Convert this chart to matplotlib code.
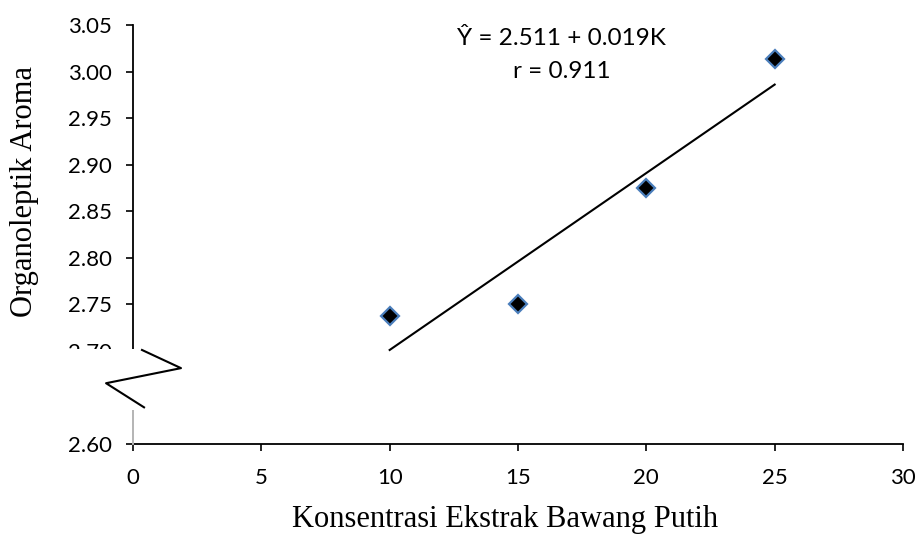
import matplotlib
matplotlib.use("Agg")
import matplotlib.pyplot as plt
from matplotlib.patches import Rectangle

# data
konsentrasi = [10, 15, 20, 25]
aroma = [2.737, 2.750, 2.875, 3.013]
intercept = 2.511
slope = 0.019
r_value = 0.911

y_ticks = [2.60, 2.65, 2.70, 2.75, 2.80, 2.85, 2.90, 2.95, 3.00, 3.05]
x_ticks = [0, 5, 10, 15, 20, 25, 30]

tick_font = "Lato"
label_font = "Liberation Serif"

fig = plt.figure(figsize=(9.16, 5.36), dpi=100)
ax = fig.add_axes([0.1452, 0.1716, 0.8406, 0.7818])

# regression line
x_fit = [konsentrasi[0], konsentrasi[-1]]
y_fit = [intercept + slope * x for x in x_fit]
ax.plot(x_fit, y_fit, color="black", lw=1.5, zorder=2)

# observed points
ax.plot(konsentrasi, aroma, linestyle="none", marker="D", ms=9.5,
        mfc="black", mec="#4a7ebb", mew=1.6, zorder=3)

ax.set_xlim(0, 30)
ax.set_ylim(2.60, 3.05)
ax.set_xticks(x_ticks)
ax.set_yticks(y_ticks)
ax.set_xticklabels([str(v) for v in x_ticks], fontfamily=tick_font, fontsize=16)
ax.set_yticklabels([f"{v:.2f}" for v in y_ticks], fontfamily=tick_font, fontsize=16)
ax.tick_params(axis="y", direction="out", length=5, width=1.2, pad=10)
ax.tick_params(axis="x", direction="out", length=5, width=1.2, pad=12)

for side in ["top", "right"]:
    ax.spines[side].set_visible(False)
for side in ["left", "bottom"]:
    ax.spines[side].set_linewidth(1.3)

fig.text(505 / 916, 1 - 519 / 536, "Konsentrasi Ekstrak Bawang Putih",
         ha="center", va="center", fontfamily=label_font, fontsize=22)
fig.text(25 / 916, 1 - 192 / 536, "Organoleptik Aroma", rotation=90,
         ha="center", va="center", fontfamily=label_font, fontsize=22)

# equation text
ax.text(16.7, 3.036, f"\u0176 = {intercept} + {slope}K", ha="center", va="center",
        fontfamily=tick_font, fontsize=17.5)
ax.text(16.7, 3.0, f"r = {r_value}", ha="center", va="center",
        fontfamily=tick_font, fontsize=17.5)

# axis break mark
ax.add_patch(Rectangle((-3.2, 2.637), 5.6, 0.065, facecolor="white",
                       edgecolor="none", clip_on=False, zorder=5))
ax.plot([0.35, 1.87, -1.05, 0.43], [2.701, 2.6815, 2.6653, 2.6394],
        color="black", lw=1.5, clip_on=False, zorder=6)
ax.plot([0, 0], [2.600, 2.637], color="#c8c8c8", lw=1.3, clip_on=False, zorder=4)

fig.savefig("out.png", dpi=100)
